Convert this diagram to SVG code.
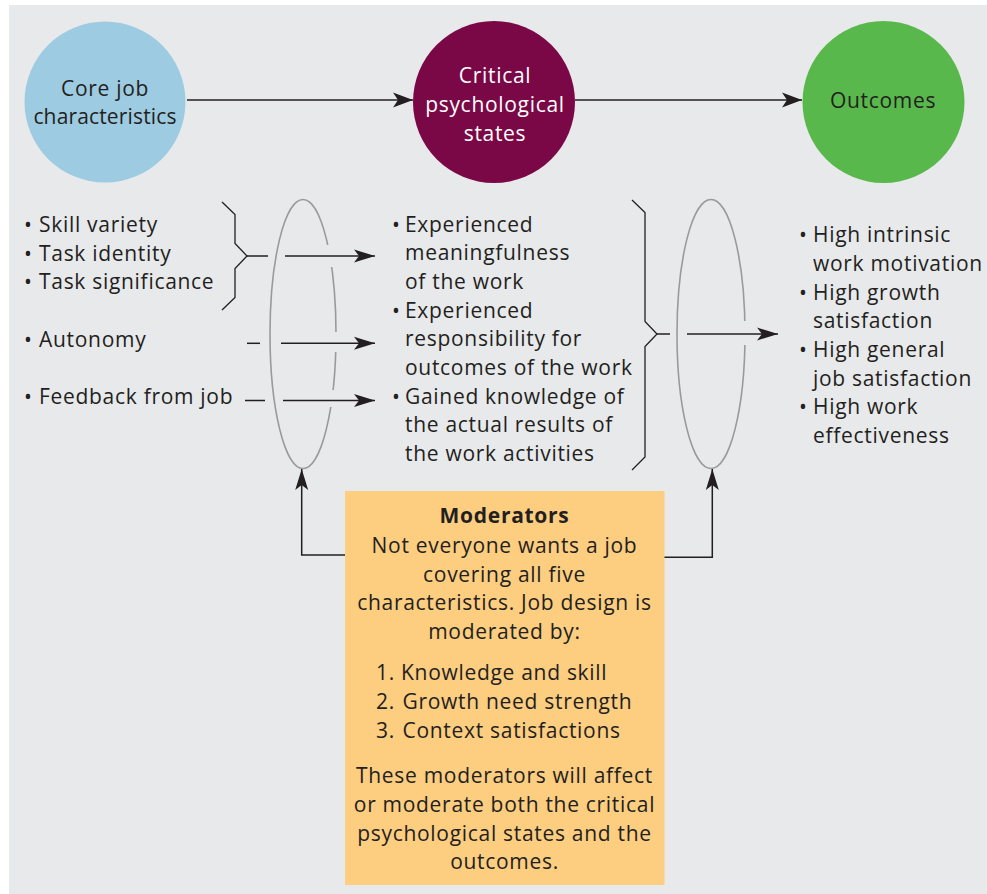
<svg xmlns="http://www.w3.org/2000/svg" width="987" height="894" viewBox="0 0 987 894">
  <style>
    text { font-family: "Open Sans", "Liberation Sans", sans-serif; font-size: 21px; letter-spacing: 0.7px; fill: #231f20; }
    .white { fill: #ffffff; }
    .mid { text-anchor: middle; }
    .bold { font-weight: 700; }
    .tight { letter-spacing: 0.15px; }
    .conn { stroke: #231f20; stroke-width: 1.5; fill: none; }
    .ring { stroke: #9a9a9a; stroke-width: 1.6; fill: none; }
    .brace { stroke: #231f20; stroke-width: 1.3; fill: none; stroke-linejoin: miter; }
  </style>
  <defs>
    <marker id="arrowBig" viewBox="-21 -8 22 16" refX="0" refY="0" markerUnits="userSpaceOnUse" markerWidth="22" markerHeight="16" orient="auto">
      <path d="M0,0 L-20,-7.5 L-15,0 L-20,7.5 Z" fill="#231f20"/>
    </marker>
    <marker id="arrowSmall" viewBox="-21 -8 22 16" refX="0" refY="0" markerUnits="userSpaceOnUse" markerWidth="22" markerHeight="16" orient="auto">
      <path d="M0,0 L-21,-6.5 L-16,0 L-21,6.5 Z" fill="#231f20"/>
    </marker>
    <!-- openings in the rings where the arrows pass in front -->
    <mask id="ringGapLeft" maskUnits="userSpaceOnUse" x="0" y="0" width="987" height="894">
      <rect x="0" y="0" width="987" height="894" fill="#fff"/>
      <rect x="318" y="245" width="30" height="22" fill="#000"/>
      <rect x="318" y="332" width="30" height="20" fill="#000"/>
      <rect x="318" y="390" width="30" height="17" fill="#000"/>
    </mask>
    <mask id="ringGapRight" maskUnits="userSpaceOnUse" x="0" y="0" width="987" height="894">
      <rect x="0" y="0" width="987" height="894" fill="#fff"/>
      <rect x="728" y="321" width="30" height="24" fill="#000"/>
    </mask>
  </defs>

  <!-- panel -->
  <rect x="9" y="5" width="978" height="889" fill="#e8e9eb"/>

  <!-- top row nodes -->
  <g id="core-job-characteristics">
    <circle cx="105" cy="102" r="80.5" fill="#9dcbe1"/>
    <text class="mid" x="105" y="96">Core job</text>
    <text class="mid tight" x="105" y="124">characteristics</text>
  </g>
  <g id="critical-psychological-states">
    <circle cx="494" cy="102" r="81" fill="#7a0846"/>
    <text class="mid white" x="495" y="83">Critical</text>
    <text class="mid white" x="495" y="112">psychological</text>
    <text class="mid white" x="495" y="141">states</text>
  </g>
  <g id="outcomes">
    <circle cx="883.5" cy="102" r="81" fill="#58b84b"/>
    <text class="mid" x="883" y="108">Outcomes</text>
  </g>

  <!-- lists -->
  <g id="characteristics-list">
    <text y="231.7"><tspan x="24">•</tspan><tspan x="39">Skill variety</tspan></text>
    <text y="260.5"><tspan x="24">•</tspan><tspan x="39">Task identity</tspan></text>
    <text y="288.5"><tspan x="24">•</tspan><tspan x="39">Task significance</tspan></text>
    <text y="346.5"><tspan x="24">•</tspan><tspan x="39">Autonomy</tspan></text>
    <text y="403.5"><tspan x="24">•</tspan><tspan x="39">Feedback from job</tspan></text>
  </g>
  <g id="states-list">
    <text y="231.7"><tspan x="392">•</tspan><tspan x="405">Experienced</tspan></text>
    <text x="405" y="260.4">meaningfulness</text>
    <text x="405" y="289">of the work</text>
    <text y="317.7"><tspan x="392">•</tspan><tspan x="405">Experienced</tspan></text>
    <text x="405" y="346.4">responsibility for</text>
    <text x="405" y="375">outcomes of the work</text>
    <text y="403.7"><tspan x="392">•</tspan><tspan x="405">Gained knowledge of</tspan></text>
    <text x="405" y="432.4">the actual results of</text>
    <text x="405" y="461">the work activities</text>
  </g>
  <g id="outcomes-list">
    <text y="242.3"><tspan x="799">•</tspan><tspan x="813">High intrinsic</tspan></text>
    <text x="813" y="271">work motivation</text>
    <text y="299.7"><tspan x="799">•</tspan><tspan x="813">High growth</tspan></text>
    <text x="813" y="328.3">satisfaction</text>
    <text y="357"><tspan x="799">•</tspan><tspan x="813">High general</tspan></text>
    <text x="813" y="385.5">job satisfaction</text>
    <text y="414"><tspan x="799">•</tspan><tspan x="813">High work</tspan></text>
    <text x="813" y="442.5">effectiveness</text>
  </g>

  <!-- braces and rings -->
  <g id="brace-characteristics">
    <path class="brace" d="M222,202 L235,214.5 L235,243.5 L247,256 L235,268.5 L235,297.5 L222,310"/>
  </g>
  <g id="brace-states">
    <path class="brace" d="M632,200 L645,212.5 L645,321.5 L657,334 L645,346.5 L645,457 L632,470"/>
  </g>
  <g id="ring-states">
    <ellipse class="ring" cx="303" cy="334" rx="33" ry="134.5" mask="url(#ringGapLeft)"/>
  </g>
  <g id="ring-outcomes">
    <ellipse class="ring" cx="711" cy="334" rx="34" ry="134.5" mask="url(#ringGapRight)"/>
  </g>

  <!-- moderators box -->
  <g id="moderators">
    <rect x="345" y="491" width="319.5" height="394" fill="#fdcd80"/>
    <text class="mid bold" x="504.5" y="523.3">Moderators</text>
    <text class="mid" x="504.5" y="552.7">Not everyone wants a job</text>
    <text class="mid" x="504.5" y="581.5">covering all five</text>
    <text class="mid" x="504.5" y="609.8">characteristics. Job design is</text>
    <text class="mid" x="504.5" y="638.5">moderated by:</text>
    <text y="680"><tspan x="376">1.</tspan><tspan x="401">Knowledge and skill</tspan></text>
    <text y="709"><tspan x="376">2.</tspan><tspan x="402.5">Growth need strength</tspan></text>
    <text y="737.7"><tspan x="376">3.</tspan><tspan x="402.5">Context satisfactions</tspan></text>
    <text class="mid" x="504.5" y="782.7">These moderators will affect</text>
    <text class="mid" x="504.5" y="812">or moderate both the critical</text>
    <text class="mid" x="504.5" y="840.7">psychological states and the</text>
    <text class="mid" x="504.5" y="869.3">outcomes.</text>
  </g>

  <!-- connectors -->
  <g id="connectors">
    <line class="conn" x1="187" y1="100" x2="413" y2="100" marker-end="url(#arrowBig)"/>
    <line class="conn" x1="575" y1="100" x2="802" y2="100" marker-end="url(#arrowBig)"/>

    <line class="conn" x1="247" y1="256" x2="268" y2="256"/>
    <line class="conn" x1="285" y1="256" x2="375" y2="256" marker-end="url(#arrowSmall)"/>
    <line class="conn" x1="247" y1="343.3" x2="260" y2="343.3"/>
    <line class="conn" x1="281" y1="343.3" x2="375" y2="343.3" marker-end="url(#arrowSmall)"/>
    <line class="conn" x1="245" y1="400.5" x2="265" y2="400.5"/>
    <line class="conn" x1="283" y1="400.5" x2="375" y2="400.5" marker-end="url(#arrowSmall)"/>

    <line class="conn" x1="657" y1="334" x2="670" y2="334"/>
    <line class="conn" x1="687" y1="334" x2="778" y2="334" marker-end="url(#arrowSmall)"/>

    <polyline class="conn" points="345,555 301.7,555 301.7,469" marker-end="url(#arrowSmall)"/>
    <polyline class="conn" points="664.5,557.3 712.3,557.3 712.3,469" marker-end="url(#arrowSmall)"/>
  </g>
</svg>
